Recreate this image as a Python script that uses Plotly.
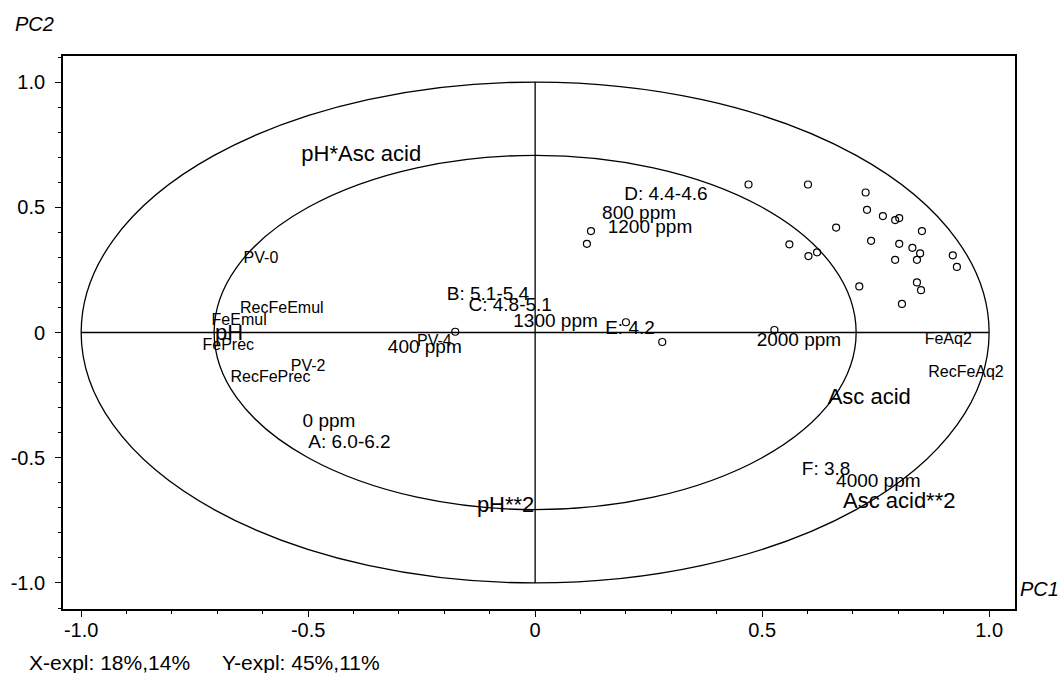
import plotly.graph_objects as go

# Scores (open circles)
score_x = [0.470, 0.601, 0.728, 0.731, 0.766, 0.793, 0.802, 0.663, 0.852, 0.740,
           0.802, 0.560, 0.831, 0.602, 0.621, 0.848, 0.793, 0.841, 0.920, 0.929,
           0.714, 0.841, 0.850, 0.808, 0.527, 0.123, 0.114, -0.176, 0.200, 0.280]
score_y = [0.591, 0.591, 0.559, 0.490, 0.465, 0.449, 0.457, 0.419, 0.405, 0.366,
           0.354, 0.352, 0.338, 0.305, 0.320, 0.316, 0.290, 0.290, 0.308, 0.262,
           0.184, 0.200, 0.169, 0.114, 0.010, 0.405, 0.354, 0.003, 0.041, -0.038]

# Loadings (text labels)
large_labels = ["pH*Asc acid", "pH", "pH**2", "Asc acid", "Asc acid**2"]
large_x = [-0.383, -0.674, -0.065, 0.736, 0.802]
large_y = [0.708, -0.007, -0.695, -0.262, -0.677]

medium_labels = ["D: 4.4-4.6", "800 ppm", "1200 ppm", "B: 5.1-5.4", "C: 4.8-5.1",
                 "1300 ppm", "E: 4.2", "400 ppm", "0 ppm", "A: 6.0-6.2",
                 "2000 ppm", "F: 3.8", "4000 ppm"]
medium_x = [0.288, 0.229, 0.253, -0.104, -0.055, 0.045, 0.209, -0.243, -0.454, -0.409,
            0.581, 0.641, 0.756]
medium_y = [0.548, 0.472, 0.415, 0.150, 0.103, 0.039, 0.013, -0.063, -0.360, -0.442,
            -0.034, -0.551, -0.599]

small_labels = ["PV-4", "PV-0", "RecFeEmul", "FeEmul", "FePrec", "PV-2", "RecFePrec",
                "FeAq2", "RecFeAq2"]
small_x = [-0.222, -0.604, -0.558, -0.652, -0.676, -0.500, -0.583, 0.910, 0.949]
small_y = [-0.037, 0.293, 0.093, 0.047, -0.054, -0.136, -0.183, -0.030, -0.160]

tick_vals = [-1.0, -0.5, 0.0, 0.5, 1.0]
tick_text = ["-1.0", "-0.5", "0", "0.5", "1.0"]

circle_radii = [1.0, 0.7071]

FONT = "Liberation Sans, Arial, Helvetica, sans-serif"

fig = go.Figure()

for labels, xs, ys, size in [(large_labels, large_x, large_y, 22),
                             (medium_labels, medium_x, medium_y, 19),
                             (small_labels, small_x, small_y, 16)]:
    fig.add_trace(go.Scatter(x=xs, y=ys, mode="text", text=labels,
                             textposition="middle center",
                             textfont=dict(family=FONT, size=size, color="black"),
                             hoverinfo="skip", showlegend=False))

fig.add_trace(go.Scatter(x=score_x, y=score_y, mode="markers",
                         marker=dict(symbol="circle-open", size=7, color="black",
                                     line=dict(width=1.2, color="black")),
                         showlegend=False))

shapes = []
for r in circle_radii:
    shapes.append(dict(type="circle", xref="x", yref="y", x0=-r, x1=r, y0=-r, y1=r,
                       line=dict(color="black", width=1.3), layer="below"))
shapes.append(dict(type="line", xref="x", yref="y", x0=-1, x1=1, y0=0, y1=0,
                   line=dict(color="black", width=1.3), layer="below"))
shapes.append(dict(type="line", xref="x", yref="y", x0=0, x1=0, y0=-1, y1=1,
                   line=dict(color="black", width=1.3), layer="below"))

annotations = [
    dict(text="<i>PC2</i>", xref="paper", yref="paper", x=-0.053, y=1.058,
         xanchor="left", yanchor="middle", showarrow=False,
         font=dict(family=FONT, size=20, color="black")),
    dict(text="<i>PC1</i>", xref="paper", yref="paper", x=1.003, y=0.037,
         xanchor="left", yanchor="middle", showarrow=False,
         font=dict(family=FONT, size=20, color="black")),
    dict(text="X-expl: 18%,14%", xref="paper", yref="paper", x=-0.0376, y=-0.097,
         xanchor="left", yanchor="middle", showarrow=False,
         font=dict(family=FONT, size=21, color="black")),
    dict(text="Y-expl: 45%,11%", xref="paper", yref="paper", x=0.165, y=-0.097,
         xanchor="left", yanchor="middle", showarrow=False,
         font=dict(family=FONT, size=21, color="black")),
]

axis_common = dict(showgrid=False, zeroline=False, showline=True, linecolor="black",
                   linewidth=1.8, mirror=True, ticks="outside", ticklen=6,
                   tickwidth=1.3, tickcolor="black",
                   tickfont=dict(family=FONT, size=20, color="black"),
                   tickvals=tick_vals, ticktext=tick_text,
                   minor=dict(dtick=0.1, tick0=0, ticks="outside", ticklen=3,
                              tickwidth=1, tickcolor="black"))

fig.update_layout(
    width=1062, height=673,
    margin=dict(l=63, r=47, t=56, b=64),
    paper_bgcolor="white", plot_bgcolor="white",
    xaxis=dict(range=[-1.040, 1.057], ticklabelstandoff=-4, **axis_common),
    yaxis=dict(range=[-1.104, 1.104], ticklabelstandoff=6, **axis_common),
    shapes=shapes, annotations=annotations,
    font=dict(family=FONT, color="black"),
)

fig.write_html("out.html")
